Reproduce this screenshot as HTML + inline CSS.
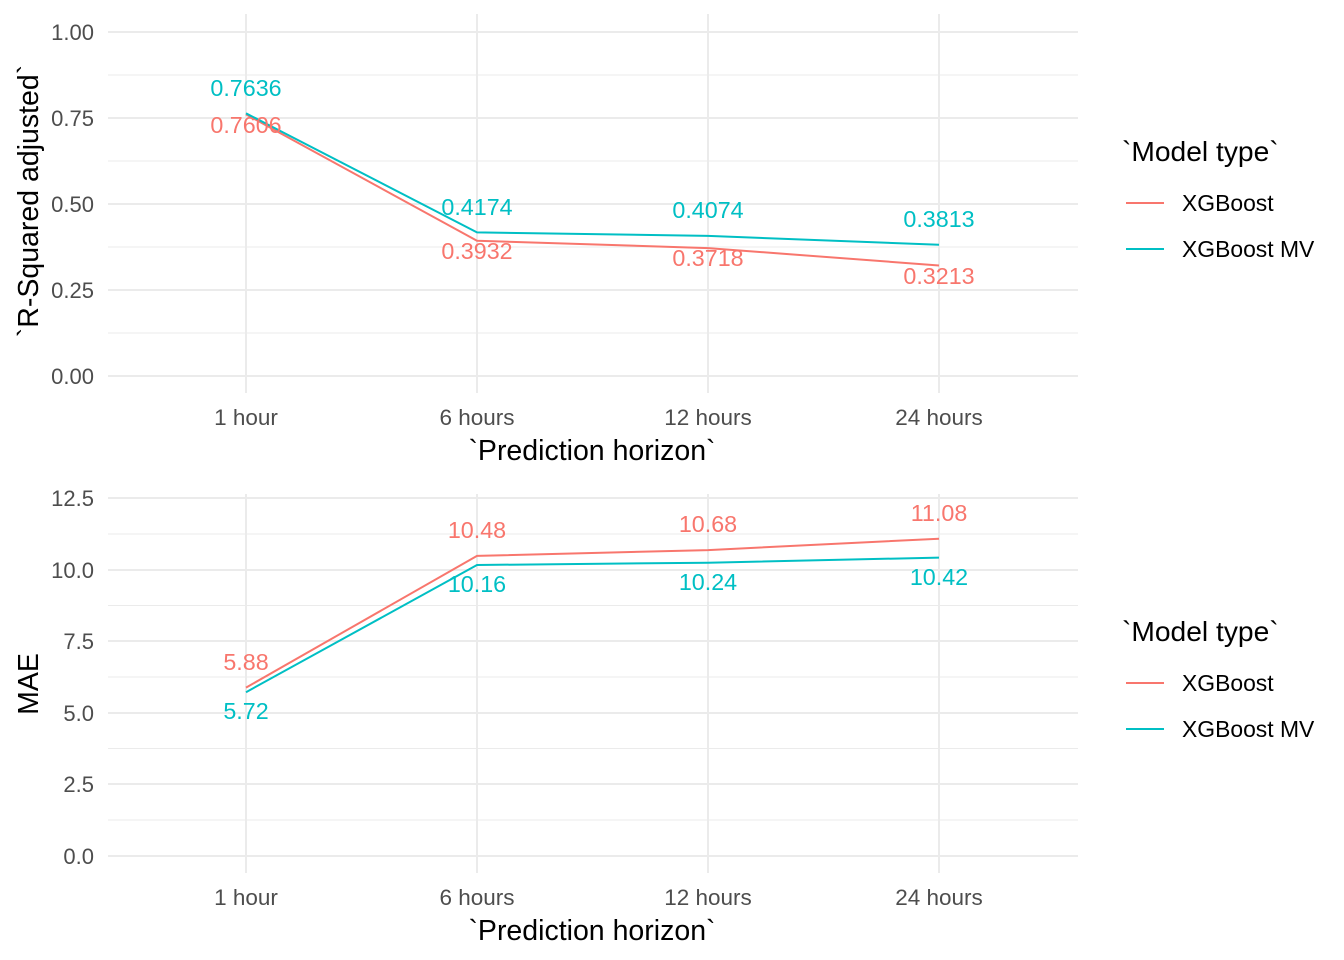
<!DOCTYPE html>
<html><head><meta charset="utf-8"><style>body{margin:0;background:#fff}svg{display:block}</style></head><body>
<svg width="1344" height="960" xmlns="http://www.w3.org/2000/svg" font-family="Liberation Sans, sans-serif">
<rect width="1344" height="960" fill="#fff"/>
<g stroke="#ebebeb" stroke-width="1">
<line x1="108" x2="1078" y1="75" y2="75"/><line x1="108" x2="1078" y1="161" y2="161"/><line x1="108" x2="1078" y1="247" y2="247"/><line x1="108" x2="1078" y1="333" y2="333"/>
</g>
<g stroke="#ebebeb" stroke-width="2">
<line x1="108" x2="1078" y1="32" y2="32"/><line x1="108" x2="1078" y1="118" y2="118"/><line x1="108" x2="1078" y1="204" y2="204"/><line x1="108" x2="1078" y1="290" y2="290"/><line x1="108" x2="1078" y1="376" y2="376"/>
<line x1="246" x2="246" y1="14" y2="393"/><line x1="477" x2="477" y1="14" y2="393"/><line x1="708" x2="708" y1="14" y2="393"/><line x1="939" x2="939" y1="14" y2="393"/>
</g>
<g font-size="22" fill="#4d4d4d" text-anchor="end">
<text x="94" y="40">1.00</text><text x="94" y="126">0.75</text><text x="94" y="212">0.50</text><text x="94" y="298">0.25</text><text x="94" y="384">0.00</text>
</g>
<g font-size="22.5" fill="#4d4d4d" text-anchor="middle">
<text x="246" y="425">1 hour</text><text x="477" y="425">6 hours</text><text x="708" y="425">12 hours</text><text x="939" y="425">24 hours</text>
</g>
<text x="592" y="460" font-size="28.5" text-anchor="middle">`Prediction horizon`</text>
<text transform="translate(38,201) rotate(-90)" font-size="28.5" text-anchor="middle">`R-Squared adjusted`</text>
<polyline points="246,114.4 477,240.7 708,248.1 939,265.5" fill="none" stroke="#F8766D" stroke-width="2"/>
<polyline points="246,113.3 477,232.4 708,235.9 939,244.8" fill="none" stroke="#00BFC4" stroke-width="2"/>
<g font-size="23.3" text-anchor="middle" fill="#00BFC4">
<text x="246" y="96">0.7636</text><text x="477" y="215">0.4174</text><text x="708" y="218">0.4074</text><text x="939" y="227">0.3813</text>
</g>
<g font-size="23.3" text-anchor="middle" fill="#F8766D">
<text x="246" y="133">0.7606</text><text x="477" y="259">0.3932</text><text x="708" y="266">0.3718</text><text x="939" y="284">0.3213</text>
</g>
<g stroke="#ebebeb" stroke-width="1">
<line x1="108" x2="1078" y1="534" y2="534"/><line x1="108" x2="1078" y1="605.5" y2="605.5"/><line x1="108" x2="1078" y1="677" y2="677"/><line x1="108" x2="1078" y1="748.5" y2="748.5"/><line x1="108" x2="1078" y1="820" y2="820"/>
</g>
<g stroke="#ebebeb" stroke-width="2">
<line x1="108" x2="1078" y1="498" y2="498"/><line x1="108" x2="1078" y1="570" y2="570"/><line x1="108" x2="1078" y1="641" y2="641"/><line x1="108" x2="1078" y1="713" y2="713"/><line x1="108" x2="1078" y1="784" y2="784"/><line x1="108" x2="1078" y1="856" y2="856"/>
<line x1="246" x2="246" y1="494" y2="873"/><line x1="477" x2="477" y1="494" y2="873"/><line x1="708" x2="708" y1="494" y2="873"/><line x1="939" x2="939" y1="494" y2="873"/>
</g>
<g font-size="22" fill="#4d4d4d" text-anchor="end">
<text x="94" y="506">12.5</text><text x="94" y="578">10.0</text><text x="94" y="649">7.5</text><text x="94" y="721">5.0</text><text x="94" y="792">2.5</text><text x="94" y="864">0.0</text>
</g>
<g font-size="22.5" fill="#4d4d4d" text-anchor="middle">
<text x="246" y="905">1 hour</text><text x="477" y="905">6 hours</text><text x="708" y="905">12 hours</text><text x="939" y="905">24 hours</text>
</g>
<text x="592" y="940" font-size="28.5" text-anchor="middle">`Prediction horizon`</text>
<text transform="translate(38,684) rotate(-90)" font-size="28.5" text-anchor="middle">MAE</text>
<polyline points="246,687.6 477,555.9 708,550.1 939,538.7" fill="none" stroke="#F8766D" stroke-width="2"/>
<polyline points="246,692.2 477,565 708,562.7 939,557.6" fill="none" stroke="#00BFC4" stroke-width="2"/>
<g font-size="23.3" text-anchor="middle" fill="#F8766D">
<text x="246" y="670">5.88</text><text x="477" y="538">10.48</text><text x="708" y="532">10.68</text><text x="939" y="521">11.08</text>
</g>
<g font-size="23.3" text-anchor="middle" fill="#00BFC4">
<text x="246" y="719">5.72</text><text x="477" y="592">10.16</text><text x="708" y="590">10.24</text><text x="939" y="585">10.42</text>
</g>
<g font-size="28.2"><text x="1122" y="161">`Model type`</text><text x="1122" y="641">`Model type`</text></g>
<g stroke-width="2">
<line x1="1126" x2="1164" y1="203" y2="203" stroke="#F8766D"/><line x1="1126" x2="1164" y1="249" y2="249" stroke="#00BFC4"/>
<line x1="1126" x2="1164" y1="683" y2="683" stroke="#F8766D"/><line x1="1126" x2="1164" y1="729" y2="729" stroke="#00BFC4"/>
</g>
<g font-size="22.9">
<text x="1182" y="211">XGBoost</text><text x="1182" y="257">XGBoost MV</text>
<text x="1182" y="691">XGBoost</text><text x="1182" y="737">XGBoost MV</text>
</g>
</svg>
</body></html>
